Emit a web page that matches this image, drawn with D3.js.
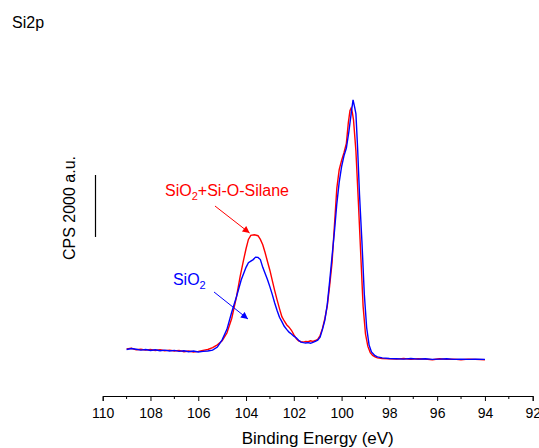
<!DOCTYPE html>
<html><head><meta charset="utf-8">
<script src="https://cdn.jsdelivr.net/npm/d3@7/dist/d3.min.js"></script>
<style>body{margin:0;background:#fff;}svg{display:block;font-family:"Liberation Sans",Arial,sans-serif;}</style>
</head><body>
<script>
// Binding energy (eV) and counts (CPS)
const redSeries = [
[109.0,1520],[108.8,1540],[108.6,1490],[108.4,1510],[108.2,1480],[108.0,1500],[107.8,1470],[107.6,1490],
[107.4,1460],[107.2,1480],[107.0,1450],[106.8,1470],[106.6,1430],[106.4,1450],[106.2,1420],[106.0,1440],
[105.8,1470],[105.6,1500],[105.4,1560],[105.2,1650],[105.0,1780],[104.8,2030],[104.6,2500],[104.4,3200],
[104.25,3840],[104.1,4400],[104.0,4750],[103.9,5050],[103.8,5180],[103.65,5200],[103.5,5170],[103.4,5050],
[103.3,4880],[103.2,4620],[103.1,4330],[103.0,4050],[102.9,3720],[102.8,3400],[102.7,3100],[102.6,2820],
[102.5,2560],[102.4,2420],[102.3,2300],[102.2,2220],[102.1,2120],[102.0,1980],[101.9,1850],[101.8,1780],
[101.7,1750],[101.6,1740],[101.5,1760],[101.4,1750],[101.3,1780],[101.2,1760],[101.1,1790],[101.0,1830],
[100.9,1950],[100.8,2180],[100.7,2500],[100.6,2900],[100.5,3550],[100.4,4290],[100.3,5500],[100.2,6700],
[100.1,7300],[100.0,7600],[99.9,7850],[99.8,8150],[99.72,8800],[99.65,9200],[99.6,9290],[99.55,9150],
[99.5,8900],[99.4,7900],[99.3,6300],[99.2,4600],[99.1,2900],[99.0,2000],[98.9,1600],[98.8,1400],
[98.7,1310],[98.6,1260],[98.5,1230],[98.3,1210],[98.0,1200],[97.7,1190],[97.4,1210],[97.1,1180],
[96.8,1200],[96.5,1190],[96.2,1170],[95.9,1200],[95.6,1180],[95.3,1190],[95.0,1170],[94.7,1190],
[94.4,1180],[94.0,1170]
];
const blueSeries = [
[109.0,1500],[108.8,1530],[108.6,1510],[108.4,1480],[108.2,1500],[108.0,1470],[107.8,1490],[107.6,1460],
[107.4,1480],[107.2,1450],[107.0,1470],[106.8,1440],[106.6,1460],[106.4,1430],[106.2,1450],[106.0,1420],
[105.8,1440],[105.6,1450],[105.4,1480],[105.2,1580],[105.0,1810],[104.8,2150],[104.6,2700],[104.4,3200],
[104.2,3750],[104.0,4150],[103.9,4300],[103.8,4350],[103.7,4400],[103.6,4480],[103.5,4470],[103.4,4400],
[103.3,4150],[103.2,3950],[103.1,3750],[103.0,3520],[102.9,3270],[102.8,3000],[102.7,2760],[102.6,2540],
[102.5,2400],[102.4,2250],[102.3,2150],[102.2,2060],[102.1,2000],[102.0,1930],[101.9,1880],[101.8,1800],
[101.7,1740],[101.6,1720],[101.5,1710],[101.4,1720],[101.3,1700],[101.2,1730],[101.1,1760],[101.0,1800],
[100.9,1900],[100.8,2150],[100.7,2450],[100.6,2950],[100.5,3700],[100.4,4500],[100.3,5300],[100.2,6200],
[100.1,6900],[100.0,7400],[99.9,7750],[99.8,8000],[99.7,8500],[99.6,9100],[99.52,9550],[99.45,9300],
[99.4,9100],[99.33,8000],[99.25,6500],[99.15,5000],[99.05,3300],[98.95,2200],[98.85,1650],[98.75,1420],
[98.6,1300],[98.5,1260],[98.3,1230],[98.0,1210],[97.7,1200],[97.4,1190],[97.1,1210],[96.8,1190],
[96.5,1200],[96.2,1180],[95.9,1190],[95.6,1200],[95.3,1180],[95.0,1190],[94.7,1180],[94.4,1190],
[94.0,1180]
];
const majorTicks = [110,108,106,104,102,100,98,96,94,92];
const minorTicks = [109,107,105,103,101,99,97,95,93];
const chartTitle = "Si2p";
const xTitle = "Binding Energy (eV)";
const yTitle = "CPS 2000 a.u.";
const scaleBar = [5130, 7130]; // 2000 CPS
const redLabel = {text:["SiO","2","+Si-O-Silane"], at:[107.39,6452], from:[105.30,6129], to:[103.85,5258]};
const blueLabel = {text:["SiO","2",""], at:[107.06,3581], from:[105.34,3355], to:[103.92,2484]};

const W = 539, H = 448;
const svg = d3.select("body").append("svg").attr("width", W).attr("height", H);
const x = d3.scaleLinear().domain([110, 92]).range([102.7, 532.7]);
const y = d3.scaleLinear().domain([0, 10000]).range([396, 86]);

const defs = svg.append("defs");
[["arR","#ff0000"],["arB","#0000ff"]].forEach(([id,c])=>{
  defs.append("marker").attr("id",id).attr("viewBox","0 0 10 10").attr("refX",10).attr("refY",5)
    .attr("markerWidth",9).attr("markerHeight",7).attr("markerUnits","userSpaceOnUse").attr("orient","auto")
    .append("path").attr("d","M0,0L10,5L0,10z").attr("fill",c);
});

// axis
const ax = svg.append("g").attr("transform","translate(0,396)");
ax.call(d3.axisBottom(x).tickValues(majorTicks).tickSize(5).tickPadding(7).tickFormat(d3.format("d")));
ax.select(".domain").attr("stroke","#000").attr("stroke-width",1);
ax.selectAll(".tick line").attr("stroke","#000");
ax.selectAll(".tick text").attr("font-size",14).attr("fill","#000").attr("font-family","Liberation Sans, Arial, sans-serif");
ax.selectAll(".minor").data(minorTicks).enter().append("line").attr("class","minor")
  .attr("x1",d=>x(d)).attr("x2",d=>x(d)).attr("y1",0).attr("y2",3).attr("stroke","#000");

svg.append("text").attr("x",(x(110)+x(92))/2).attr("y",444).attr("text-anchor","middle")
  .attr("font-size",17).text(xTitle);
svg.append("text").attr("x",12).attr("y",28).attr("font-size",16).text(chartTitle);
svg.append("text").attr("transform","translate(75,208) rotate(-90)").attr("text-anchor","middle")
  .attr("font-size",16).text(yTitle);
svg.append("line").attr("x1",95.5).attr("x2",95.5).attr("y1",y(scaleBar[0])).attr("y2",y(scaleBar[1]))
  .attr("stroke","#000").attr("stroke-width",1.2);

const line = d3.line().x(d=>x(d[0])).y(d=>y(d[1]));
svg.append("path").datum(redSeries).attr("d",line).attr("fill","none").attr("stroke","#ff0000").attr("stroke-width",1.4);
svg.append("path").datum(blueSeries).attr("d",line).attr("fill","none").attr("stroke","#0000ff").attr("stroke-width",1.4);

function annot(lab, color, marker){
  const t = svg.append("text").attr("x",x(lab.at[0])).attr("y",y(lab.at[1])).attr("font-size",16).attr("fill",color);
  t.append("tspan").text(lab.text[0]);
  t.append("tspan").attr("font-size",11).attr("dy",4).text(lab.text[1]);
  if(lab.text[2]) t.append("tspan").attr("dy",-4).text(lab.text[2]);
  svg.append("line").attr("x1",x(lab.from[0])).attr("y1",y(lab.from[1])).attr("x2",x(lab.to[0])).attr("y2",y(lab.to[1]))
    .attr("stroke",color).attr("stroke-width",1).attr("marker-end",`url(#${marker})`);
}
annot(redLabel,"#ff0000","arR");
annot(blueLabel,"#0000ff","arB");
</script>
</body></html>
